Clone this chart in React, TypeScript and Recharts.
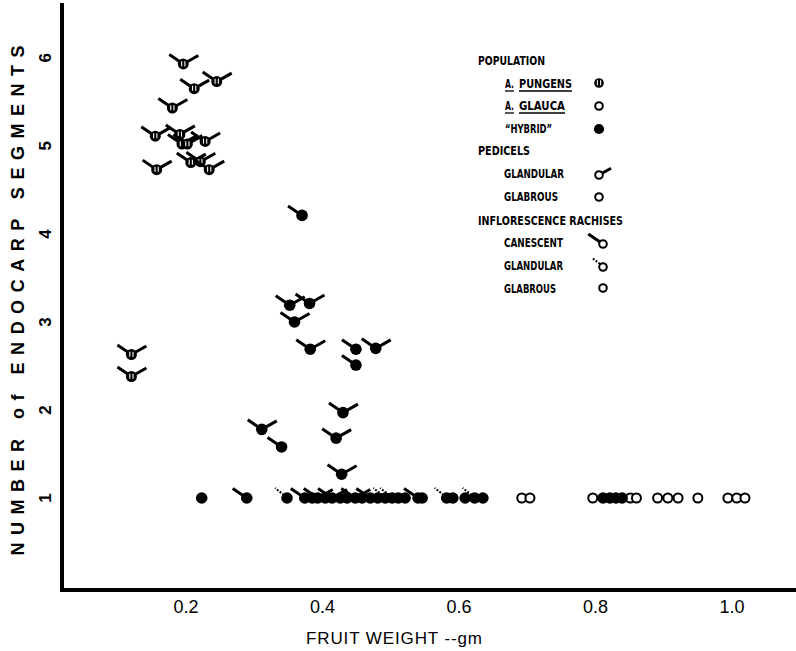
import { ScatterChart, Scatter, XAxis, YAxis, Legend, Label } from "recharts";

// [fruit weight (gm), endocarp segments, pedicel, rachis]
// pedicel: "gl" glandular, "gb" glabrous
// rachis: "c" canescent, "g" glandular, "b" glabrous
type Row = [number, number, string, string];

const pungensRows: Row[] = [
  [0.196, 5.93, "gl", "c"],
  [0.245, 5.73, "gl", "c"],
  [0.212, 5.65, "gl", "c"],
  [0.18, 5.43, "gl", "c"],
  [0.155, 5.11, "gl", "c"],
  [0.191, 5.13, "gl", "c"],
  [0.194, 5.02, "gl", "c"],
  [0.202, 5.02, "gl", "c"],
  [0.228, 5.05, "gl", "c"],
  [0.157, 4.73, "gl", "c"],
  [0.207, 4.81, "gl", "c"],
  [0.221, 4.82, "gl", "c"],
  [0.234, 4.73, "gl", "c"],
  [0.12, 2.63, "gl", "c"],
  [0.12, 2.38, "gl", "c"],
];

const hybridRows: Row[] = [
  [0.37, 4.21, "gb", "c"],
  [0.352, 3.19, "gl", "c"],
  [0.381, 3.21, "gl", "c"],
  [0.359, 3.0, "gl", "c"],
  [0.382, 2.69, "gl", "c"],
  [0.449, 2.69, "gb", "c"],
  [0.478, 2.7, "gl", "c"],
  [0.449, 2.51, "gb", "c"],
  [0.43, 1.97, "gl", "c"],
  [0.311, 1.78, "gl", "c"],
  [0.34, 1.58, "gb", "c"],
  [0.42, 1.68, "gl", "c"],
  [0.428, 1.27, "gl", "c"],
  [0.223, 1, "gb", "b"],
  [0.289, 1, "gb", "c"],
  [0.348, 1, "gb", "g"],
  [0.374, 1, "gb", "c"],
  [0.385, 1, "gb", "b"],
  [0.393, 1, "gl", "c"],
  [0.404, 1, "gb", "b"],
  [0.414, 1, "gl", "c"],
  [0.426, 1, "gb", "b"],
  [0.436, 1, "gb", "b"],
  [0.448, 1, "gl", "c"],
  [0.458, 1, "gb", "b"],
  [0.47, 1, "gb", "c"],
  [0.481, 1, "gb", "b"],
  [0.492, 1, "gb", "g"],
  [0.502, 1, "gb", "g"],
  [0.511, 1, "gb", "b"],
  [0.521, 1, "gb", "b"],
  [0.54, 1, "gb", "c"],
  [0.546, 1, "gb", "b"],
  [0.582, 1, "gb", "g"],
  [0.591, 1, "gb", "b"],
  [0.609, 1, "gb", "b"],
  [0.623, 1, "gb", "g"],
  [0.635, 1, "gb", "b"],
  [0.811, 1, "gb", "b"],
  [0.821, 1, "gb", "b"],
  [0.83, 1, "gb", "b"],
  [0.839, 1, "gb", "b"],
];

const glaucaRows: Row[] = [
  [0.692, 1, "gb", "b"],
  [0.704, 1, "gb", "b"],
  [0.796, 1, "gb", "b"],
  [0.851, 1, "gb", "b"],
  [0.86, 1, "gb", "b"],
  [0.891, 1, "gb", "b"],
  [0.906, 1, "gb", "b"],
  [0.921, 1, "gb", "b"],
  [0.95, 1, "gb", "b"],
  [0.994, 1, "gb", "b"],
  [1.007, 1, "gb", "b"],
  [1.019, 1, "gb", "b"],
];

const xTicks = [0.2, 0.4, 0.6, 0.8, 1.0];
const yTicks = [1, 2, 3, 4, 5, 6];

const toPoints = (rows: Row[]) =>
  rows.map(([x, y, ped, rac]) => ({ x, y, ped, rac }));

const INK = "#000";
const FONT = "'Liberation Sans', Arial, sans-serif";
const NARROW = "'Liberation Sans Narrow', 'DejaVu Sans Condensed', sans-serif";

// one symbol: circle by population, arms for pedicel / rachis
function Glyph({ cx, cy, pop, ped, rac, r = 5.5, arm = 1 }: any) {
  return (
    <g>
      {rac === "c" && (
        <line x1={cx} y1={cy} x2={cx - 14 * arm} y2={cy - 9.5 * arm} stroke={INK} strokeWidth={3} />
      )}
      {rac === "g" && (
        <line
          x1={cx - 3}
          y1={cy - 3}
          x2={cx - 12 * arm}
          y2={cy - 10 * arm}
          stroke={INK}
          strokeWidth={2}
          strokeDasharray="2 1.5"
        />
      )}
      {ped === "gl" && (
        <line x1={cx} y1={cy} x2={cx + 15 * arm} y2={cy - 8.5 * arm} stroke={INK} strokeWidth={3} />
      )}
      {pop === "glauca" ? (
        <circle cx={cx} cy={cy} r={r - 1} fill="#fff" stroke={INK} strokeWidth={2} />
      ) : (
        <circle cx={cx} cy={cy} r={pop === "hybrid" ? r + 0.3 : r} fill={INK} />
      )}
      {pop === "pungens" && (
        <g stroke="#fff" strokeWidth={1.1}>
          <line x1={cx - 1.6} y1={cy - 2.8} x2={cx - 1.6} y2={cy + 2.2} />
          <line x1={cx + 1.6} y1={cy - 2.8} x2={cx + 1.6} y2={cy + 2.2} />
        </g>
      )}
    </g>
  );
}

const shapeFor = (pop: string) => (p: any) =>
  <Glyph cx={p.cx} cy={p.cy} pop={pop} ped={p.payload.ped} rac={p.payload.rac} />;

function YTick({ y, payload }: any) {
  return (
    <text
      x={46}
      y={y}
      transform={`rotate(-90, 46, ${y})`}
      textAnchor="middle"
      dominantBaseline="central"
      fontFamily={FONT}
      fontWeight="bold"
      fontSize={17}
      fill={INK}
    >
      {payload.value}
    </text>
  );
}

function YTitle({ viewBox }: any) {
  const cy = viewBox.y + viewBox.height / 2 + 3;
  return (
    <text
      x={18}
      y={cy}
      transform={`rotate(-90, 18, ${cy})`}
      textAnchor="middle"
      dominantBaseline="central"
      fontFamily={FONT}
      fontWeight="bold"
      fontSize={18}
      textLength={510}
      lengthAdjust="spacing"
      fill={INK}
    >
      NUMBER of ENDOCARP SEGMENTS
    </text>
  );
}

function XTitle({ viewBox }: any) {
  return (
    <text
      x={394}
      y={viewBox.y + 48}
      textAnchor="middle"
      dominantBaseline="central"
      fontFamily={FONT}
      fontSize={17}
      textLength={176}
      lengthAdjust="spacing"
      fill={INK}
    >
      FRUIT  WEIGHT --gm
    </text>
  );
}

const LX = 460;
const LY = 40;

const legendTexts: [string, number, number, number][] = [
  ["POPULATION", 478, 60, 67],
  ["PEDICELS", 478, 150, 52],
  ["INFLORESCENCE RACHISES", 478, 220, 145],
  ["\u201CHYBRID\u201D", 505, 128, 47],
  ["GLANDULAR", 504, 173, 60],
  ["GLABROUS", 504, 196, 54],
  ["CANESCENT", 504, 242, 59],
  ["GLANDULAR", 504, 265, 59],
  ["GLABROUS", 504, 288, 52],
];

function LegendBox() {
  const t = (s: string, x: number, y: number, w: number, k: number) => (
    <text
      key={k}
      x={x - LX}
      y={y - LY}
      dominantBaseline="central"
      fontFamily={NARROW}
      fontWeight="bold"
      fontSize={13}
      textLength={w}
      lengthAdjust="spacingAndGlyphs"
      fill={INK}
    >
      {s}
    </text>
  );
  const u = (x1: number, x2: number, y: number) => (
    <line x1={x1 - LX} x2={x2 - LX} y1={y - LY + 8} y2={y - LY + 8} stroke={INK} strokeWidth={1.3} />
  );
  return (
    <svg width={200} height={270} style={{ display: "block" }}>
      {legendTexts.map(([s, x, y, w], i) => t(s, x, y, w, i))}
      {t("A.", 505, 83, 9, 100)}
      {t("PUNGENS", 519, 83, 53, 101)}
      {u(505, 514, 83)}
      {u(519, 572, 83)}
      {t("A.", 505, 105, 9, 102)}
      {t("GLAUCA", 519, 105, 46, 103)}
      {u(505, 514, 105)}
      {u(519, 565, 105)}
      <Glyph cx={599 - LX} cy={83 - LY} pop="pungens" r={4.8} />
      <Glyph cx={599 - LX} cy={106 - LY} pop="glauca" r={4.8} />
      <Glyph cx={599 - LX} cy={129 - LY} pop="hybrid" r={4.8} />
      <Glyph cx={599 - LX} cy={175 - LY} pop="glauca" ped="gl" r={4.8} arm={0.8} />
      <Glyph cx={599 - LX} cy={197 - LY} pop="glauca" r={4.8} />
      <Glyph cx={603 - LX} cy={244 - LY} pop="glauca" rac="c" r={4.8} arm={1.05} />
      <Glyph cx={603 - LX} cy={267 - LY} pop="glauca" rac="g" r={4.8} arm={0.9} />
      <Glyph cx={603 - LX} cy={288 - LY} pop="glauca" r={4.8} />
    </svg>
  );
}

export default function App() {
  return (
    <div style={{ position: "absolute", left: 0, top: 0, background: "#fff" }}>
      <ScatterChart width={796} height={651} margin={{ top: 5, right: 0, bottom: 0, left: 0 }}>
        <XAxis
          type="number"
          dataKey="x"
          domain={[0.0183, 1.0938]}
          allowDataOverflow
          ticks={xTicks}
          tickFormatter={(v: number) => v.toFixed(1)}
          height={61}
          tickLine={false}
          tickMargin={4}
          axisLine={{ stroke: INK, strokeWidth: 4, strokeLinecap: "square" }}
          tick={{ fill: INK, fontSize: 18, fontFamily: FONT }}
        >
          <Label content={<XTitle />} />
        </XAxis>
        <YAxis
          type="number"
          dataKey="y"
          domain={[-0.045, 6.6]}
          allowDataOverflow
          ticks={yTicks}
          width={62}
          tickLine={false}
          axisLine={{ stroke: INK, strokeWidth: 4, strokeLinecap: "square" }}
          tick={<YTick />}
        >
          <Label content={<YTitle />} />
        </YAxis>
        <Legend
          layout="vertical"
          align="center"
          verticalAlign="middle"
          wrapperStyle={{ left: LX, top: LY, width: 200, height: 270 }}
          content={() => <LegendBox />}
        />
        <Scatter name="A. glauca" data={toPoints(glaucaRows)} shape={shapeFor("glauca")} isAnimationActive={false} />
        <Scatter name="Hybrid" data={toPoints(hybridRows)} shape={shapeFor("hybrid")} isAnimationActive={false} />
        <Scatter name="A. pungens" data={toPoints(pungensRows)} shape={shapeFor("pungens")} isAnimationActive={false} />
      </ScatterChart>
    </div>
  );
}
